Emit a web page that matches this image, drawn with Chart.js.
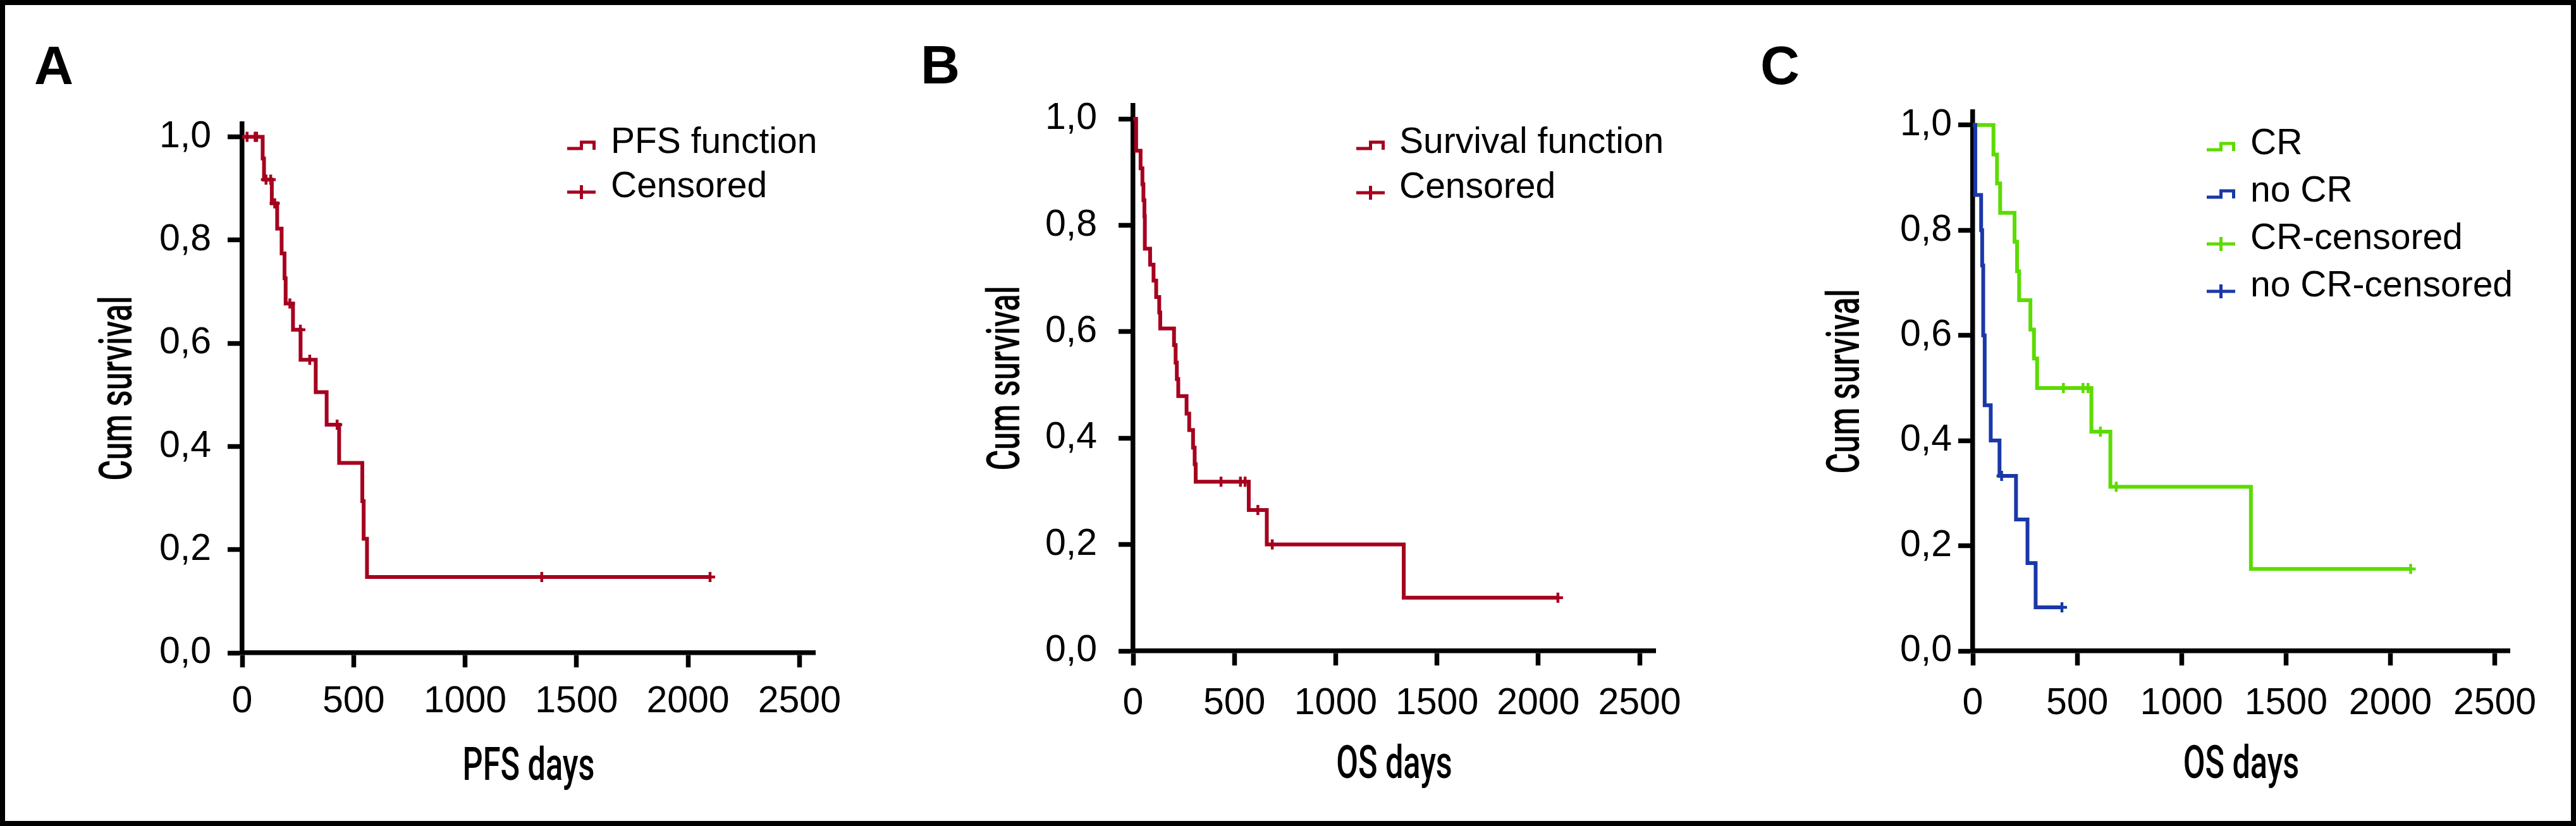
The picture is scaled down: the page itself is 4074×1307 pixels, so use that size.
<!DOCTYPE html>
<html>
<head>
<meta charset="utf-8">
<title>Kaplan-Meier curves</title>
<script src="https://cdn.jsdelivr.net/npm/chart.js@4.4.1/dist/chart.umd.min.js"></script>
<style>
    html, body { margin: 0; padding: 0; background: #fff; }
    #page { position: relative; width: 4074px; height: 1307px; overflow: hidden; background: #fff; }
    #page canvas { position: absolute; left: 0; top: 0; }
    #frame { position: absolute; left: 0; top: 0; width: 4074px; height: 1307px;
             box-sizing: border-box; border: 8px solid #000; pointer-events: none; }
</style>
</head>
<body>
<div id="page">
    <canvas id="chartA" width="4074" height="1307"></canvas>
    <canvas id="chartB" width="4074" height="1307"></canvas>
    <canvas id="chartC" width="4074" height="1307"></canvas>
    <div id="frame"></div>
</div>
<script>
// ---- values ----
const xTicks = [0, 500, 1000, 1500, 2000, 2500];
const yTicks = [0, 0.2, 0.4, 0.6, 0.8, 1.0];

// A: PFS (days of events and survival after each event, censored days)
const pfsDays = [92, 98, 133, 157, 177, 190, 195, 228, 262, 330, 379, 435, 539, 545, 560];
const pfsSurv = [0.958, 0.917, 0.871, 0.822, 0.774, 0.726, 0.677, 0.626, 0.568, 0.505, 0.442, 0.368, 0.294, 0.221, 0.147];
const pfsCensored = [22, 58, 65, 107, 128, 146, 214, 261, 303, 426, 1344, 2099];

// B: OS
const osDays = [15, 37, 46, 51, 56, 58, 84, 101, 114, 129, 134, 202, 210, 216, 223, 264, 277, 296, 304, 309, 571, 660, 1336];
const osSurv = [0.940, 0.907, 0.877, 0.847, 0.817, 0.756, 0.726, 0.696, 0.665, 0.636, 0.606, 0.575, 0.542, 0.511, 0.479, 0.446, 0.415, 0.382, 0.351, 0.318, 0.265, 0.200, 0.100];
const osCensored = [434, 530, 553, 616, 687, 2097];

// C: OS by response
const crDays = [99, 116, 131, 200, 212, 222, 276, 293, 308, 568, 659, 1332];
const crSurv = [0.944, 0.889, 0.833, 0.778, 0.722, 0.667, 0.611, 0.556, 0.500, 0.417, 0.312, 0.156];
const crCensored = [434, 528, 552, 611, 687, 2097];

const noCrDays = [12, 40, 45, 50, 57, 86, 128, 207, 262, 301];
const noCrSurv = [0.867, 0.800, 0.733, 0.600, 0.467, 0.400, 0.333, 0.250, 0.167, 0.083];
const noCrCensored = [138, 427];

const RED = '#A5001E';
const GREEN = '#5CDB00';
const BLUE = '#1A38A8';
const TICK_FONT = '"Liberation Sans", Arial, sans-serif';

// room reserved for tick labels (labels are clipped to the scale box)
const Y_BOX = 160;
const X_BOX = 140;

/**
 * Step curve points: start at (0,1), drop at each event, run on to the last censored day
 */
function stepPoints(days, surv, censored) {
    const pts = [{ x: 0, y: 1 }];
    days.forEach((d, i) => pts.push({ x: d, y: surv[i] }));
    const lastDay = days[days.length - 1];
    const end = Math.max(lastDay, ...censored);
    if (end > lastDay) pts.push({ x: end, y: surv[surv.length - 1] });
    return pts;
}

function survAt(days, surv, t) {
    let s = 1;
    days.forEach((d, i) => { if (d <= t) s = surv[i]; });
    return s;
}

function censorPoints(days, surv, censored) {
    return censored.map(t => ({ x: t, y: survAt(days, surv, t) }));
}

function curveSet(days, surv, censored, color, order) {
    return {
        data: stepPoints(days, surv, censored),
        stepped: true,
        borderColor: color,
        borderWidth: 6,
        pointRadius: 0,
        fill: false,
        order: order
    };
}

function censorSet(days, surv, censored, color, order) {
    return {
        data: censorPoints(days, surv, censored),
        showLine: false,
        pointStyle: 'cross',
        pointRadius: 8,
        pointBorderWidth: 4.5,
        borderColor: color,
        pointBorderColor: color,
        order: order
    };
}

/**
 * Panel letter, condensed axis titles and legend
 */
function panelPlugin(spec) {
    return {
        id: 'panel' + spec.letter,
        afterDraw(chart) {
            const ctx = chart.ctx;
            const a = chart.chartArea;
            ctx.save();
            ctx.fillStyle = '#000';
            ctx.textAlign = 'left';
            ctx.textBaseline = 'alphabetic';
            ctx.font = 'bold 86px "Liberation Sans", Arial, sans-serif';
            ctx.fillText(spec.letter, spec.letterX, spec.letterY);

            // axis titles (condensed face)
            ctx.font = '500 72px Roboto, sans-serif';
            ctx.textAlign = 'center';
            ctx.save();
            ctx.translate((a.left + a.right) / 2, a.bottom + 201);
            ctx.scale(0.7, 1);
            ctx.fillText(spec.xTitle, 0, 0);
            ctx.restore();
            ctx.save();
            ctx.translate(a.left - spec.yTitleGap, (a.top + a.bottom) / 2);
            ctx.rotate(-Math.PI / 2);
            ctx.scale(0.7, 1);
            ctx.fillText(spec.yTitle, 0, 0);
            ctx.restore();

            // legend: icons sit a little below the text centre
            const w = 45;
            spec.legend.forEach((item, i) => {
                const cy = spec.legendY + i * spec.legendGap;
                const x0 = spec.legendX;
                ctx.strokeStyle = item.color;
                ctx.lineWidth = 5;
                ctx.lineCap = 'butt';
                ctx.lineJoin = 'miter';
                ctx.beginPath();
                if (item.kind === 'step') {
                    ctx.moveTo(x0, cy + 9);
                    ctx.lineTo(x0 + w * 0.5, cy + 9);
                    ctx.lineTo(x0 + w * 0.5, cy - 1);
                    ctx.lineTo(x0 + w - 2.5, cy - 1);
                    ctx.lineTo(x0 + w - 2.5, cy + 11);
                } else {
                    ctx.moveTo(x0, cy + 8);
                    ctx.lineTo(x0 + w, cy + 8);
                    ctx.moveTo(x0 + w / 2, cy - 3);
                    ctx.lineTo(x0 + w / 2, cy + 19);
                }
                ctx.stroke();
                ctx.fillStyle = '#000';
                ctx.font = '57px ' + TICK_FONT;
                ctx.textAlign = 'left';
                ctx.textBaseline = 'middle';
                ctx.fillText(item.text, spec.textX, cy);
            });
            ctx.restore();
        }
    };
}

function axisCommon() {
    return {
        type: 'linear',
        bounds: 'data',
        grid: { display: true, drawOnChartArea: false, drawTicks: true, tickLength: 23, tickWidth: 7.5, tickColor: '#000' },
        border: { display: true, color: '#000', width: 7.5 }
    };
}

function makePanel(id, spec, datasets) {
    const xAxis = Object.assign(axisCommon(), {
        min: 0,
        max: spec.xMax,
        afterFit: s => { s.height = X_BOX; },
        afterBuildTicks: s => { s.ticks = xTicks.map(v => ({ value: v })); },
        ticks: {
            autoSkip: false, maxRotation: 0, color: '#000', padding: spec.xPad,
            font: { family: TICK_FONT, size: 59 },
            callback: v => String(v)
        }
    });
    const yAxis = Object.assign(axisCommon(), {
        min: 0,
        max: 1.025,
        afterFit: s => { s.width = Y_BOX; },
        afterBuildTicks: s => { s.ticks = yTicks.map(v => ({ value: v })); },
        ticks: {
            autoSkip: false, color: '#000', padding: spec.yPad,
            font: { family: TICK_FONT, size: 59 },
            callback: v => v.toFixed(1).replace('.', ',')
        }
    });

    const area = spec.area;
    return new Chart(document.getElementById(id), {
        type: 'line',
        data: { datasets: datasets },
        options: {
            responsive: false,
            animation: false,
            devicePixelRatio: 1,
            layout: {
                padding: {
                    left: area.left - Y_BOX,
                    top: area.top,
                    right: area.right,
                    bottom: area.bottom - X_BOX
                }
            },
            plugins: { legend: { display: false }, tooltip: { enabled: false } },
            scales: { x: xAxis, y: yAxis }
        },
        plugins: [panelPlugin(spec)]
    });
}

// ---- panel A ----
makePanel('chartA', {
    letter: 'A', letterX: 54, letterY: 133,
    xTitle: 'PFS days', yTitle: 'Cum survival', yTitleGap: 175,
    area: { left: 383, top: 196, right: 2785, bottom: 274 },
    xMax: 2570, xPad: 19, yPad: 26,
    legendX: 897, textX: 966, legendY: 226, legendGap: 70,
    legend: [
        { text: 'PFS function', color: RED, kind: 'step' },
        { text: 'Censored', color: RED, kind: 'cross' }
    ]
}, [
    censorSet(pfsDays, pfsSurv, pfsCensored, RED, 0),
    curveSet(pfsDays, pfsSurv, pfsCensored, RED, 1)
]);

// ---- panel B ----
makePanel('chartB', {
    letter: 'B', letterX: 1456, letterY: 132,
    xTitle: 'OS days', yTitle: 'Cum survival', yTitleGap: 180,
    area: { left: 1792, top: 167, right: 1456, bottom: 277 },
    xMax: 2578, xPad: 25, yPad: 34,
    legendX: 2145, textX: 2213, legendY: 226, legendGap: 71,
    legend: [
        { text: 'Survival function', color: RED, kind: 'step' },
        { text: 'Censored', color: RED, kind: 'cross' }
    ]
}, [
    censorSet(osDays, osSurv, osCensored, RED, 0),
    curveSet(osDays, osSurv, osCensored, RED, 1)
]);

// ---- panel C ----
makePanel('chartC', {
    letter: 'C', letterX: 2784, letterY: 133,
    xTitle: 'OS days', yTitle: 'Cum survival', yTitleGap: 180,
    area: { left: 3120, top: 177, right: 105, bottom: 277 },
    xMax: 2571, xPad: 25, yPad: 10,
    legendX: 3490, textX: 3559, legendY: 228, legendGap: 75,
    legend: [
        { text: 'CR', color: GREEN, kind: 'step' },
        { text: 'no CR', color: BLUE, kind: 'step' },
        { text: 'CR-censored', color: GREEN, kind: 'cross' },
        { text: 'no CR-censored', color: BLUE, kind: 'cross' }
    ]
}, [
    censorSet(noCrDays, noCrSurv, noCrCensored, BLUE, 0),
    curveSet(noCrDays, noCrSurv, noCrCensored, BLUE, 1),
    censorSet(crDays, crSurv, crCensored, GREEN, 2),
    curveSet(crDays, crSurv, crCensored, GREEN, 3)
]);
</script>
</body>
</html>
